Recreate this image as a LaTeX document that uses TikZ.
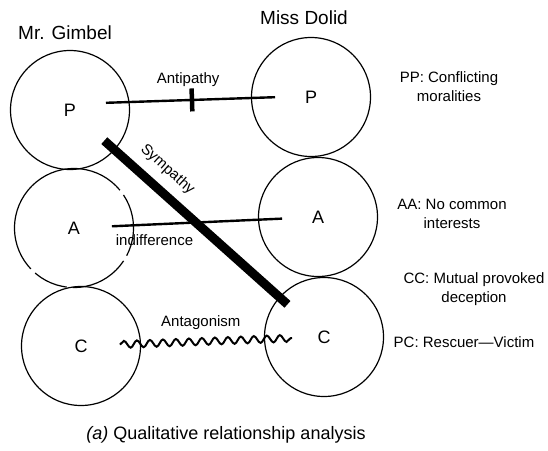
\documentclass[tikz,border=0pt]{standalone}
\usepackage{fontspec}
\setmainfont{Liberation Sans}
\usetikzlibrary{calc,decorations.pathmorphing}

\begin{document}
\begin{tikzpicture}[x=1pt,y=-1pt,role/.style={circle,draw,line width=1.2pt,minimum size=119pt,inner sep=0pt,font=\fontsize{18}{20}\selectfont},who/.style={font=\fontsize{19}{22}\selectfont},rel/.style={font=\fontsize{15}{18}\selectfont},note/.style={align=center,font=\fontsize{15}{19}\selectfont},bond/.style={line width=2.4pt},wavy/.style={line width=2pt,decorate,decoration={snake,segment length=13pt,amplitude=3.5pt}}]
\useasboundingbox (0,0) rectangle (548,450);
\node[who] (gimbel) at (65,33) {Mr. Gimbel};
\node[who] (dolid) at (304,18) {Miss Dolid};
\node[role] (gP) at (70,110) {P};
\node[role,dash pattern=on 35pt off 6pt on 191pt off 6pt on 35pt off 6pt on 60pt off 6pt on 29pt] (gA) at (74,228) {A};
\node[role] (gC) at (81,346) {C};
\node[role] (dP) at (311,97) {P};
\node[role] (dA) at (318,217) {A};
\node[role] (dC) at (324,337) {C};
\node[note] (ppNote) at (449,87) {PP: Conflicting\\moralities};
\node[note] (aaNote) at (452,214) {AA: No common\\interests};
\node[note] (ccNote) at (474,289) {CC: Mutual provoked\\deception};
\node[note] (pcNote) at (464,342) {PC: Rescuer---Victim};
\node[font=\fontsize{18}{20}\selectfont] (caption) at (226,435) {\textit{(a)} Qualitative relationship analysis};
\draw[bond,shorten <=36pt,shorten >=36pt] ([yshift=6pt]gP.center)--node[pos=.506,sloped,fill,inner sep=0pt,minimum width=4.5pt,minimum height=23pt] (antiTick) {} node[rel,pos=.49,above=9pt] (antiLbl) {Antipathy} ([yshift=1pt]dP.center);
\draw[bond,shorten <=38pt,shorten >=36pt] (gA.center)--node[rel,pos=.33,below=6pt] (indLbl) {indifference} (dA.center);
\draw[line width=9pt,shorten <=46pt,shorten >=49pt] (gP.center)--node[rel,pos=.33,sloped,above=8pt,inner sep=1pt] (symLbl) {Sympathy} (dC.center);
\draw[wavy] ($(gC.center)!39pt!(dC.center)$)--node[rel,pos=.47,above=8pt] (antLbl) {Antagonism} ($(dC.center)!32pt!(gC.center)$);
\end{tikzpicture}
\end{document}
